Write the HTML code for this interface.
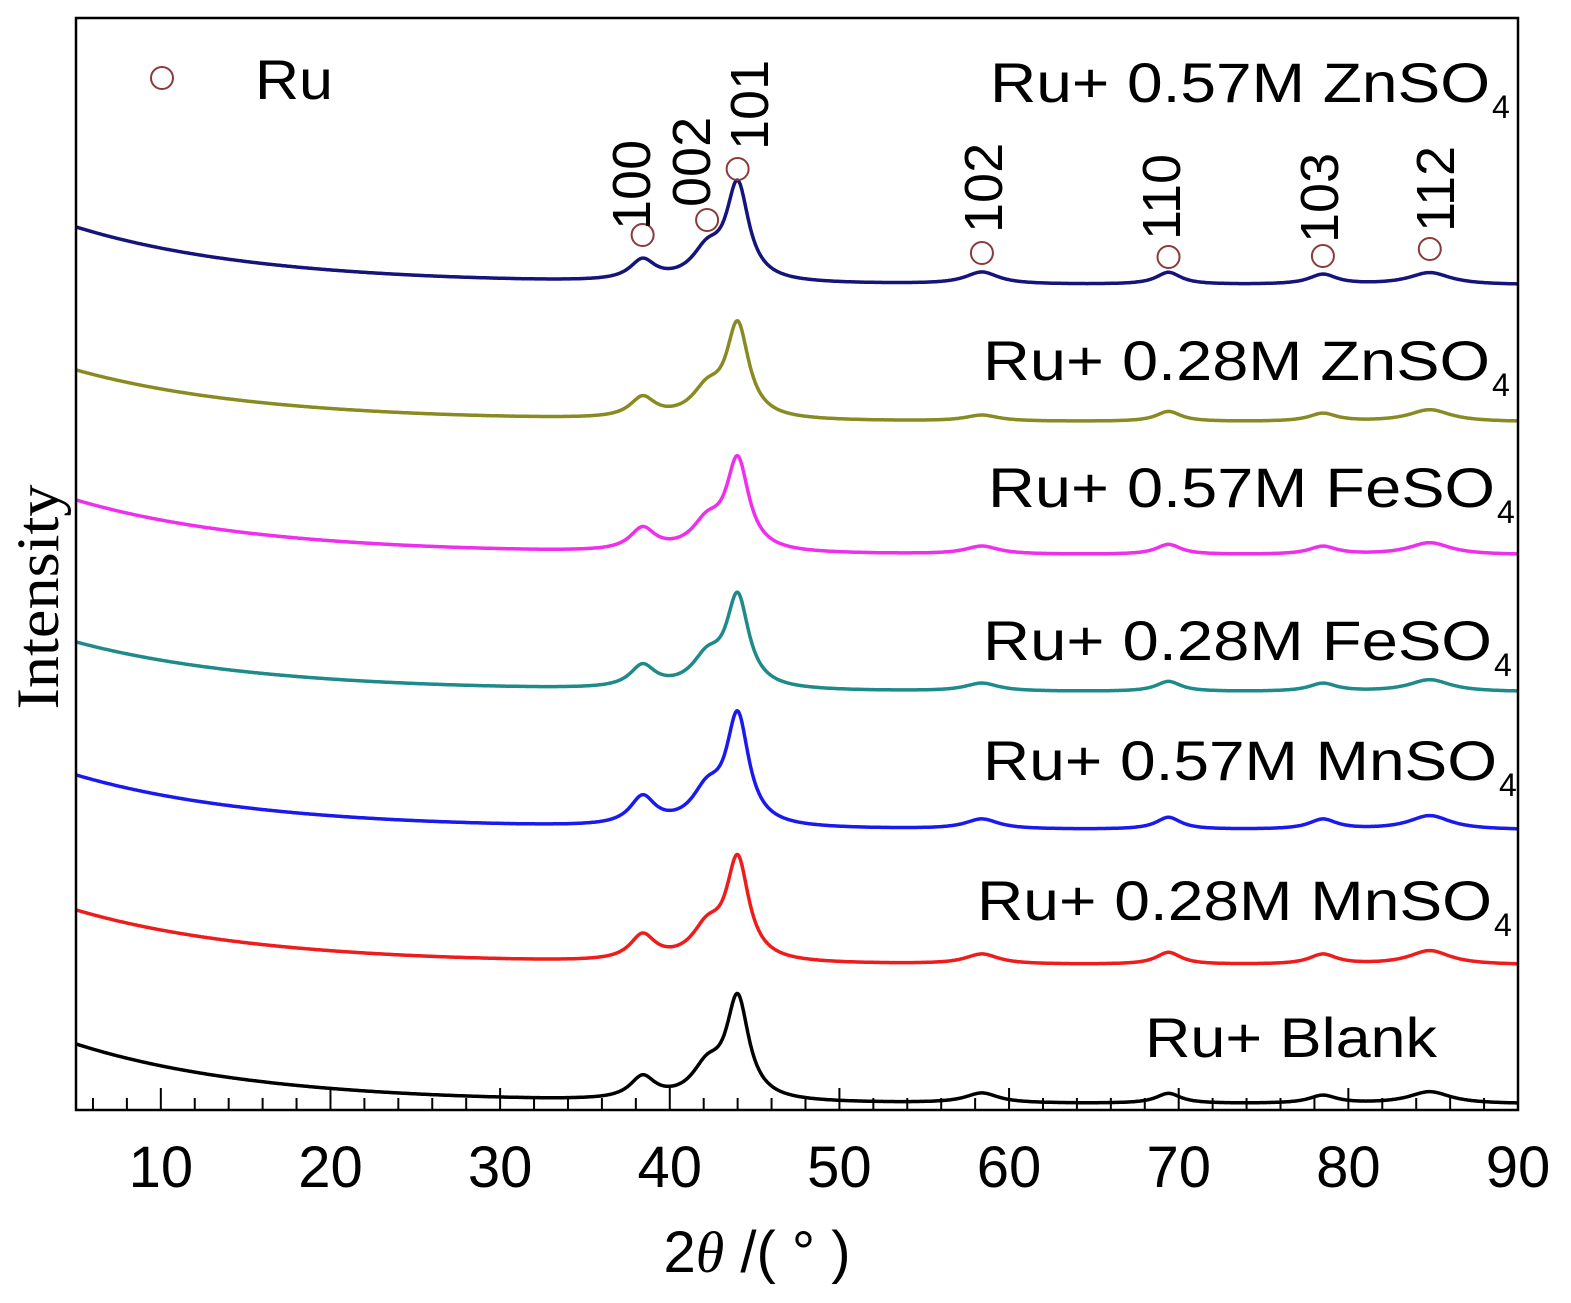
<!DOCTYPE html>
<html><head><meta charset="utf-8"><style>
html,body{margin:0;padding:0;background:#fff;}
svg{display:block;}
</style></head><body>
<svg id="chart" width="1571" height="1303" viewBox="0 0 1571 1303" xmlns="http://www.w3.org/2000/svg">
<g id="plot"></g>
<rect x="76" y="18" width="1442" height="1092" fill="none" stroke="#000" stroke-width="2.5"/>
<g id="ticks"></g>
<g id="labels" font-family="Liberation Sans, sans-serif" font-size="56" fill="#000"></g>
<g id="hkl" font-family="Liberation Sans, sans-serif" font-size="54" fill="#000"></g>
<circle cx="162" cy="78" r="11" fill="none" stroke="#8b3a3a" stroke-width="2"/>
<text x="255" y="99" font-family="Liberation Sans, sans-serif" font-size="56" textLength="78" lengthAdjust="spacingAndGlyphs">Ru</text>
<text transform="translate(58,597) rotate(-90)" text-anchor="middle" font-family="Liberation Serif, serif" font-size="60" textLength="225" lengthAdjust="spacingAndGlyphs">Intensity</text>
<text x="757" y="1272" text-anchor="middle" font-family="Liberation Sans, sans-serif" font-size="58">2<tspan font-family="Liberation Serif, serif" font-style="italic">θ</tspan> /( ° )</text>
</svg>
<script>
const seriesNames = ["Ru+ Blank","Ru+ 0.28M MnSO","Ru+ 0.57M MnSO","Ru+ 0.28M FeSO","Ru+ 0.57M FeSO","Ru+ 0.28M ZnSO","Ru+ 0.57M ZnSO"];
const seriesColors = ["#000000","#ee1c1c","#1a1aee","#1f8a8a","#ee2fee","#8a8a22","#14147a"];
const seriesOffsets = [6, 145, 280, 418, 555, 688, 825];
const bgAmps = [60, 55, 55, 50, 55, 52, 58];
const peakPositions = [38.4, 42.2, 44.0, 58.4, 69.4, 78.5, 84.8];
const peakWidths = [0.9, 1.1, 0.8, 1.2, 0.9, 1.0, 1.5];
const peakHeights = [
 [22, 30, 100, 10, 10, 8, 12],
 [25, 30, 100, 10, 12, 10, 14],
 [28, 32, 108, 10, 12, 10, 14],
 [22, 28, 90, 8, 10, 8, 12],
 [22, 26, 90, 8, 10, 8, 12],
 [20, 26, 92, 6, 10, 8, 12],
 [20, 28, 95, 12, 12, 10, 12]
];
const labelY = [1057, 920, 780, 660, 507, 380, 102];
const labelX0 = [1145, 977, 983, 983, 988, 983, 990];
const labelX1 = [1437, 1492, 1497, 1492, 1495, 1490, 1490];
const hklNames = ["100","002","101","102","110","103","112"];
const hklMarkerY = [235, 220, 169, 253, 257, 256, 249];
const hklLabelX = [650, 710, 768, 1002, 1180, 1338, 1454];
const hklLabelBottom = [230, 207, 150, 233, 240, 243, 232];
const xTicksMajor = [10,20,30,40,50,60,70,80,90];

const NS="http://www.w3.org/2000/svg";
const xS = v => 76 + (v-5)*(1442/85);
const yS = v => 1110 - v;
function mk(tag, attrs, parent){const e=document.createElementNS(NS,tag);for(const k in attrs)e.setAttribute(k,attrs[k]);parent.appendChild(e);return e;}
const plot=document.getElementById('plot');
const labels=document.getElementById('labels');
seriesNames.forEach((name,i)=>{
  let d="";
  for(let x=5;x<=90.001;x+=0.05){
    let v=seriesOffsets[i]+bgAmps[i]*Math.exp(-(x-5)/11);
    peakPositions.forEach((p,j)=>{const w=peakWidths[j];v+=peakHeights[i][j]/(1+((x-p)/w)**2);});
    d+=(d?"L":"M")+xS(x).toFixed(1)+","+yS(v).toFixed(1);
  }
  const p=mk('path',{d:d,fill:'none',stroke:seriesColors[i],'stroke-width':3.5,'stroke-linejoin':'round'},plot);
  
  
  const t=mk('text',{x:labelX0[i],y:labelY[i],textLength:labelX1[i]-labelX0[i],lengthAdjust:'spacingAndGlyphs'},labels);
  
  
  t.textContent=name;
  if(i>0){
    const s=mk('text',{x:labelX1[i]+2,y:labelY[i]+16,'font-size':32},labels);
    
    
    s.textContent="4";
  }
});
const ticks=document.getElementById('ticks');
for(let v=6;v<=90;v+=2){
  const major=v%10===0;
  const l=mk('line',{x1:xS(v),x2:xS(v),y1:1110,y2:major?1088:1098,stroke:'#000','stroke-width':2},ticks);
  
  
}
xTicksMajor.forEach(v=>{
  const t=mk('text',{x:xS(v),y:1187,'text-anchor':'middle','font-family':'Liberation Sans, sans-serif','font-size':58},ticks);
  
  
  t.textContent=v;
});
const hkl=document.getElementById('hkl');
hklNames.forEach((n,j)=>{
  const c=mk('circle',{cx:xS(peakPositions[j]),cy:hklMarkerY[j],r:11,fill:'none',stroke:'#8b3a3a','stroke-width':2},hkl);
  
  
  const t=mk('text',{transform:`translate(${hklLabelX[j]},${hklLabelBottom[j]}) rotate(-90)`},hkl);
  
  
  t.textContent=n;
});
</script>
</body></html>
